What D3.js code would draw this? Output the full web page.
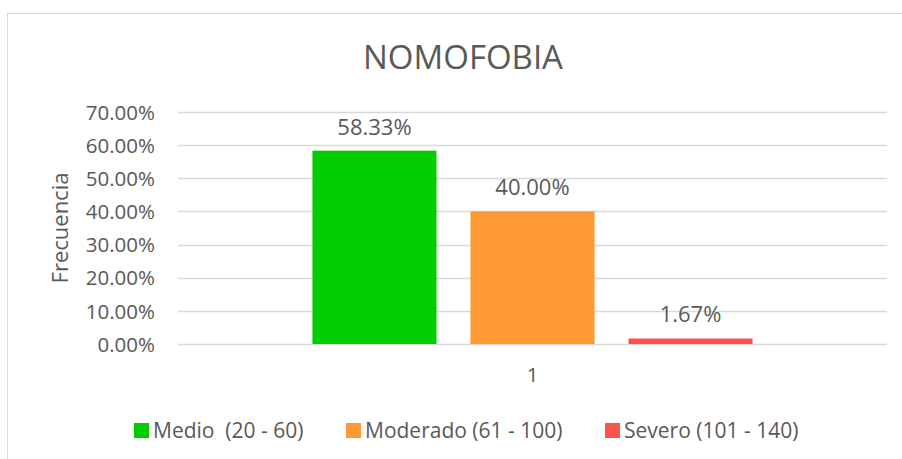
<!DOCTYPE html>
<html><head><meta charset="utf-8">
<script src="https://cdn.jsdelivr.net/npm/d3@7"></script>
<style>body{margin:0;background:#fff}svg{display:block}text{font-family:"Open Sans",sans-serif;fill:#595959}</style>
</head><body><svg id="c" width="902" height="459"></svg>
<script>
const categories = ["1"];
const seriesNames = ["Medio  (20 - 60)", "Moderado (61 - 100)", "Severo (101 - 140)"];
const seriesValues = [0.5833, 0.40, 0.0167];
const seriesColors = ["#00CC00", "#FF9933", "#FF5050"];
const yTicks = [0, 0.1, 0.2, 0.3, 0.4, 0.5, 0.6, 0.7];

const svg = d3.select("#c");
svg.append("rect").attr("x",7.5).attr("y",13.5).attr("width",902).attr("height",460)
  .attr("fill","#fff").attr("stroke","#d9d9d9").attr("stroke-width",1);

const L=178, R=887, T=112, B=344;
const y = d3.scaleLinear().domain([0,0.7]).range([B,T]);
const x0 = d3.scaleBand().domain(categories).range([L,R]).paddingInner(0).paddingOuter(0.2495);
const x1 = d3.scaleBand().domain(d3.range(seriesNames.length)).range([0,x0.bandwidth()]).paddingInner(0.215).paddingOuter(0.104);

// gridlines
svg.append("g").selectAll("line").data(yTicks).join("line")
  .attr("x1",L).attr("x2",R).attr("y1",d=>Math.round(y(d))+0.5).attr("y2",d=>Math.round(y(d))+0.5)
  .attr("stroke","#d9d9d9").attr("stroke-width",1.3);

// y axis labels
const ya = svg.append("g").attr("transform",`translate(${L-23},0)`)
  .call(d3.axisLeft(y).tickValues(yTicks).tickFormat(d=>(d*100).toFixed(2)+"%").tickSize(0).tickPadding(0));
ya.select(".domain").remove();
ya.selectAll("text").attr("font-size",20.5).attr("font-family","Open Sans").attr("fill","#595959").attr("dy","0.35em");

// x axis label
const xa = svg.append("g").attr("transform",`translate(0,${B})`)
  .call(d3.axisBottom(x0.copy().paddingOuter(0)).tickSize(0).tickPadding(23));
xa.select(".domain").remove();
xa.selectAll("text").attr("font-size",20.5).attr("font-family","Open Sans").attr("fill","#595959");

// bars
const g = svg.append("g").attr("transform",`translate(${x0(categories[0])},0)`);
g.selectAll("rect").data(seriesValues).join("rect")
  .attr("x",(d,i)=>x1(i)).attr("width",x1.bandwidth())
  .attr("y",d=>y(d)).attr("height",d=>B-y(d)).attr("fill",(d,i)=>seriesColors[i]);
g.selectAll("text").data(seriesValues).join("text")
  .attr("x",(d,i)=>x1(i)+x1.bandwidth()/2).attr("y",d=>y(d)-16)
  .attr("text-anchor","middle").attr("font-size",22)
  .text(d=>(d*100).toFixed(2)+"%");

// title
svg.append("text").attr("x",463).attr("y",69).attr("text-anchor","middle")
  .attr("font-size",33).text("NOMOFOBIA");

// y axis title
svg.append("text").attr("transform","translate(68,228) rotate(-90)").attr("text-anchor","middle")
  .attr("font-size",22).text("Frecuencia");

// legend
const legX=[134,346,605];
const lg = svg.append("g");
seriesNames.forEach((n,i)=>{
  lg.append("rect").attr("x",legX[i]).attr("y",423).attr("width",15).attr("height",15).attr("fill",seriesColors[i]);
  lg.append("text").attr("x",legX[i]+19).attr("y",438).attr("font-size",21).style("white-space","pre").text(n);
});
</script></body></html>
